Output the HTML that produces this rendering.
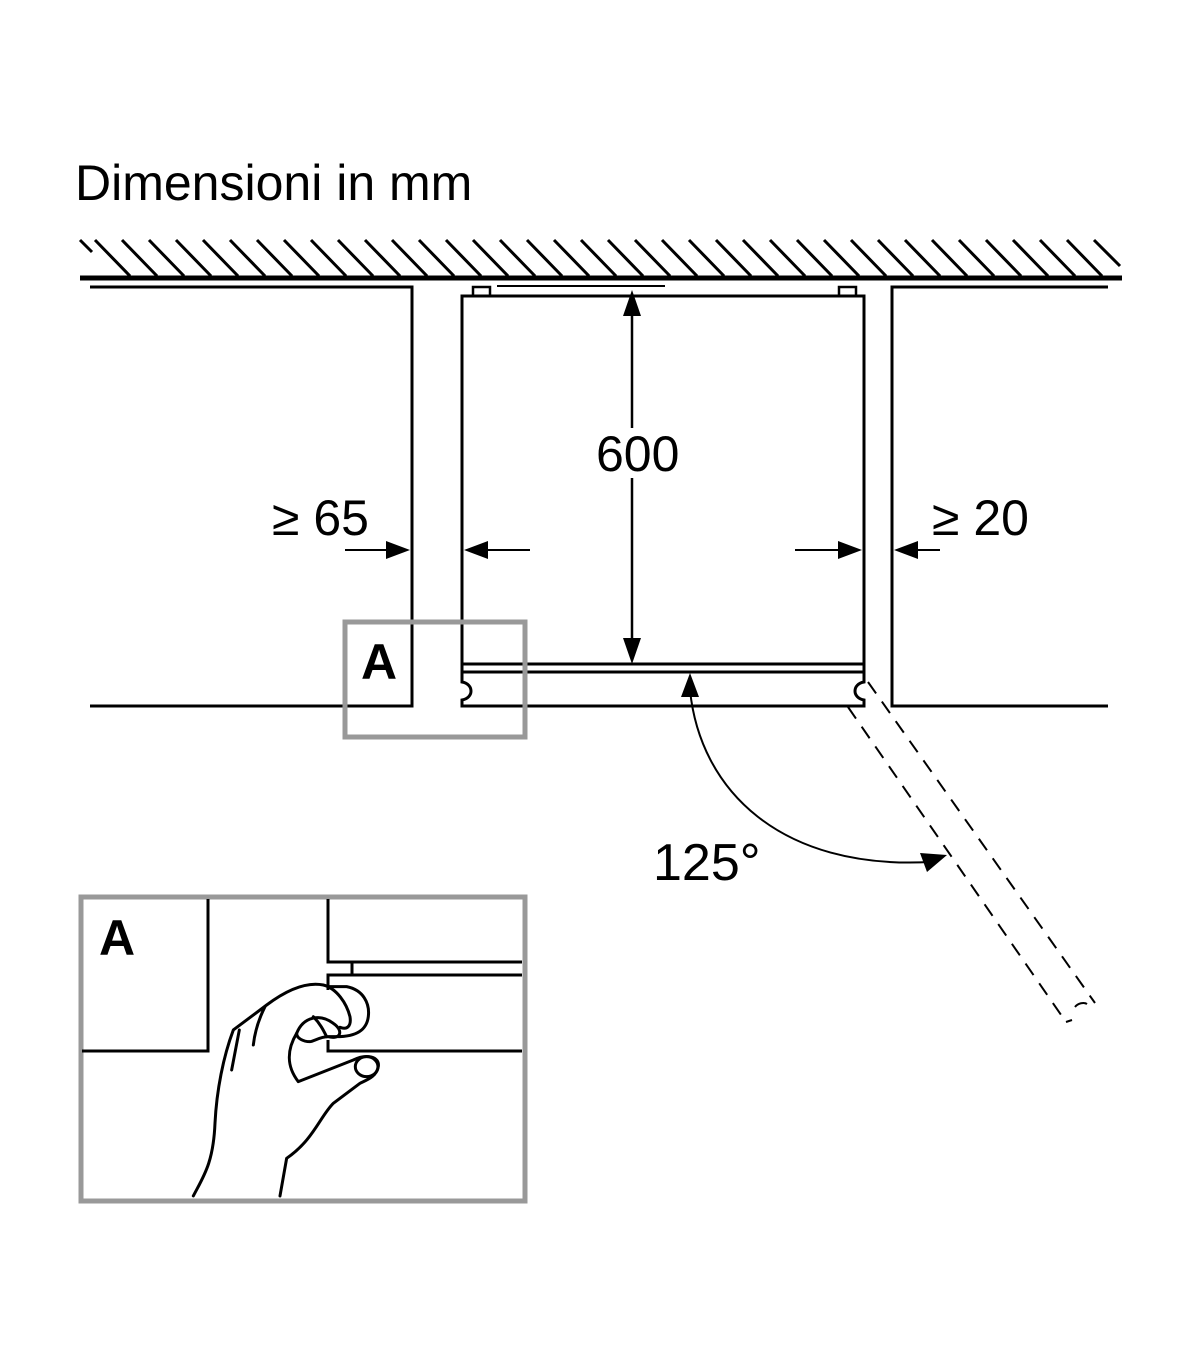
<!DOCTYPE html>
<html><head><meta charset="utf-8"><style>
html,body{margin:0;padding:0;background:#fff}
svg{display:block}
text{font-family:"Liberation Sans",sans-serif;fill:#000}
</style></head><body>
<svg width="1200" height="1372" viewBox="0 0 1200 1372" xmlns="http://www.w3.org/2000/svg">
<text x="75" y="200" font-size="50">Dimensioni in mm</text>
<g stroke="#000" stroke-width="3.5">
<line x1="80" y1="278" x2="1122" y2="278" stroke-width="5"/>
</g>
<g stroke="#000" stroke-width="3">
<path d="M80 240 L92 252 M95 240 L130 276 M122 240 L157 276 M149 240 L184 276 M176 240 L211 276 M203 240 L238 276 M230 240 L265 276 M257 240 L292 276 M284 240 L319 276 M311 240 L346 276 M338 240 L373 276 M365 240 L400 276 M392 240 L427 276 M419 240 L454 276 M446 240 L481 276 M473 240 L508 276 M500 240 L535 276 M527 240 L562 276 M554 240 L589 276 M581 240 L616 276 M608 240 L643 276 M635 240 L670 276 M662 240 L697 276 M689 240 L724 276 M716 240 L751 276 M743 240 L778 276 M770 240 L805 276 M797 240 L832 276 M824 240 L859 276 M851 240 L886 276 M878 240 L913 276 M905 240 L940 276 M932 240 L967 276 M959 240 L994 276 M986 240 L1021 276 M1013 240 L1048 276 M1040 240 L1075 276 M1067 240 L1102 276 M1094 240 L1120 266"/>
</g>
<g fill="none" stroke="#000" stroke-width="3">
<path d="M90 287 L412 287 L412 706 L90 706"/>
<path d="M1108 287 L892 287 L892 706 L1108 706"/>
<rect x="462" y="296" width="402" height="368"/>
<rect x="473" y="287" width="17" height="9" stroke-width="2.5"/>
<rect x="839" y="287" width="17" height="9" stroke-width="2.5"/>
<line x1="497" y1="286" x2="665" y2="286" stroke-width="2"/>
<path d="M462 664 L462 672 M864 664 L864 672"/>
<path d="M462 672 L864 672 L864 682 C852 684 852 698 864 700 L864 706 L462 706 L462 700 C474 698 474 684 462 682 Z"/>
<line x1="632" y1="310" x2="632" y2="650" stroke-width="2.5"/>
<line x1="345" y1="550" x2="395" y2="550" stroke-width="2"/>
<line x1="478" y1="550" x2="530" y2="550" stroke-width="2"/>
<line x1="795" y1="550" x2="848" y2="550" stroke-width="2"/>
<line x1="908" y1="550" x2="940" y2="550" stroke-width="2"/>
<path d="M690 690 C700 790 780 870 930 862" stroke-width="2"/>
<g stroke-dasharray="14 10" stroke-width="2">
<line x1="868" y1="682" x2="1095" y2="1003"/>
<line x1="848" y1="707" x2="1066" y2="1022"/>
</g>
<path d="M1066 1022 L1072 1020 M1075 1007 C1078 1003 1084 1002 1087 1004" stroke-width="2"/>
<rect x="345" y="622" width="180" height="115" stroke="#999" stroke-width="5"/>
<rect x="81" y="897" width="444" height="304" stroke="#999" stroke-width="5"/>
</g>
<g fill="#000">
<path d="M632 290 L623 316 L641 316 Z"/>
<path d="M632 664 L623 638 L641 638 Z"/>
<path d="M410 550 L386 541 L386 559 Z"/>
<path d="M464 550 L488 541 L488 559 Z"/>
<path d="M862 550 L838 541 L838 559 Z"/>
<path d="M894 550 L918 541 L918 559 Z"/>
<path d="M690 673 L681 697 L699 697 Z"/>
<path d="M947 855 L920 853 L927 872 Z"/>
</g>
<rect x="594" y="428" width="90" height="50" fill="#fff"/>
<text x="596" y="471" font-size="50">600</text>
<text x="272" y="535" font-size="50">≥ 65</text>
<text x="932" y="535" font-size="50">≥ 20</text>
<text x="653" y="880" font-size="52">125°</text>
<text x="361" y="679" font-size="50" font-weight="bold">A</text>
<text x="99" y="955" font-size="50" font-weight="bold">A</text>
<g fill="none" stroke="#000" stroke-width="3">
<path d="M208 899 L208 1051 L82 1051"/>
<path d="M328 899 L328 962 L522 962"/>
<line x1="352" y1="962" x2="352" y2="975"/>
<path d="M522 975 L328 975 L328 990 M328 1040 L328 1051 L522 1051"/>
<g transform="translate(80,890) scale(0.3333)" stroke-width="9" stroke-linejoin="round" stroke-linecap="round">
<path d="M748 290 L800 290 C850 300 870 340 865 380 C860 420 830 440 770 440 L748 440" fill="#fff"/>
<path d="M340 918 C370 860 400 820 405 700 C410 600 430 500 460 420 L560 345 C620 300 680 275 730 285 C770 295 800 340 810 380 C815 410 800 420 780 412"/>
<path d="M650 430 C670 380 720 370 760 400 C790 420 785 450 745 440 C720 440 700 455 690 455 C670 455 650 445 650 430 Z"/>
<path d="M700 380 C720 400 730 420 740 440"/>
<path d="M650 430 C620 480 620 530 655 575 L820 510 C860 490 900 500 895 530 C890 560 860 570 840 580 L760 640 C720 680 700 750 620 805 L600 918"/>
<ellipse cx="860" cy="530" rx="34" ry="30"/>
<path d="M455 540 L478 420 M520 465 C525 420 540 380 555 350"/>
</g>
</g>
</svg>
</body></html>
